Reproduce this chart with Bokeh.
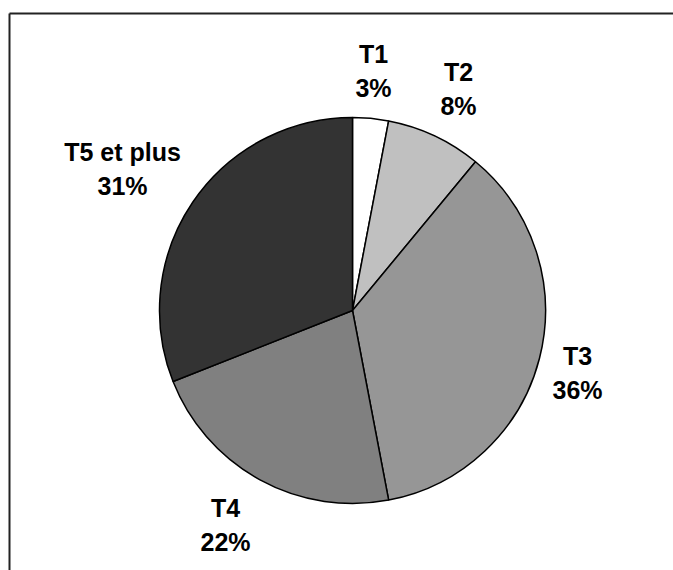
import math
from bokeh.plotting import figure
from bokeh.models import Range1d, ColumnDataSource
from bokeh.core.properties import value
from bokeh.embed import file_html
from bokeh.resources import INLINE

# ---- data ----
categories = ["T1", "T2", "T3", "T4", "T5 et plus"]
shares = [3, 8, 36, 22, 31]
pct_labels = ["3%", "8%", "36%", "22%", "31%"]

# ---- style / layout ----
colors = ["#FFFFFF", "#C0C0C0", "#969696", "#808080", "#333333"]
W, H = 673, 570
cx, cy = 352, H - 310   # pie centre (page y 310)
R = 193
# label centres in page pixels (name line), percent line 34px below
label_pos = [(373, 53), (458, 71), (577, 355), (225, 507), (122, 151)]
line_gap = 34

total = float(sum(shares))
starts, ends = [], []
cum = 0.0
for s in shares:
    starts.append(math.pi / 2 - 2 * math.pi * cum / total)
    cum += s
    ends.append(math.pi / 2 - 2 * math.pi * cum / total)

src = ColumnDataSource(dict(start=starts, end=ends, color=colors,
                            x=[cx] * len(shares), y=[cy] * len(shares)))

p = figure(width=W, height=H, output_backend="svg", toolbar_location=None,
           x_range=Range1d(0, W), y_range=Range1d(0, H), min_border=0)
p.axis.visible = False
p.grid.visible = False
p.outline_line_color = None
p.background_fill_color = None
p.border_fill_color = None

# frame (top and left edges visible)
p.segment(x0=[9, 9], y0=[0, H - 13], x1=[9, W], y1=[H - 13, H - 13],
          line_color="#222222", line_width=2)

p.wedge(x="x", y="y", radius=R, radius_units="screen", start_angle="start",
        end_angle="end", direction="clock", fill_color="color",
        line_color="black", line_width=1.5, source=src)

lx = [pos[0] for pos in label_pos]
ly1 = [H - pos[1] for pos in label_pos]
ly2 = [H - pos[1] - line_gap for pos in label_pos]
p.text(x=lx, y=ly1, text=categories, text_align="center", text_baseline="middle",
       text_font=value("Liberation Sans"), text_font_style="bold",
       text_font_size="25px", text_color="black")
p.text(x=lx, y=ly2, text=pct_labels, text_align="center", text_baseline="middle",
       text_font=value("Liberation Sans"), text_font_style="bold",
       text_font_size="25px", text_color="black")

open("out.html", "w").write(file_html(p, INLINE))
